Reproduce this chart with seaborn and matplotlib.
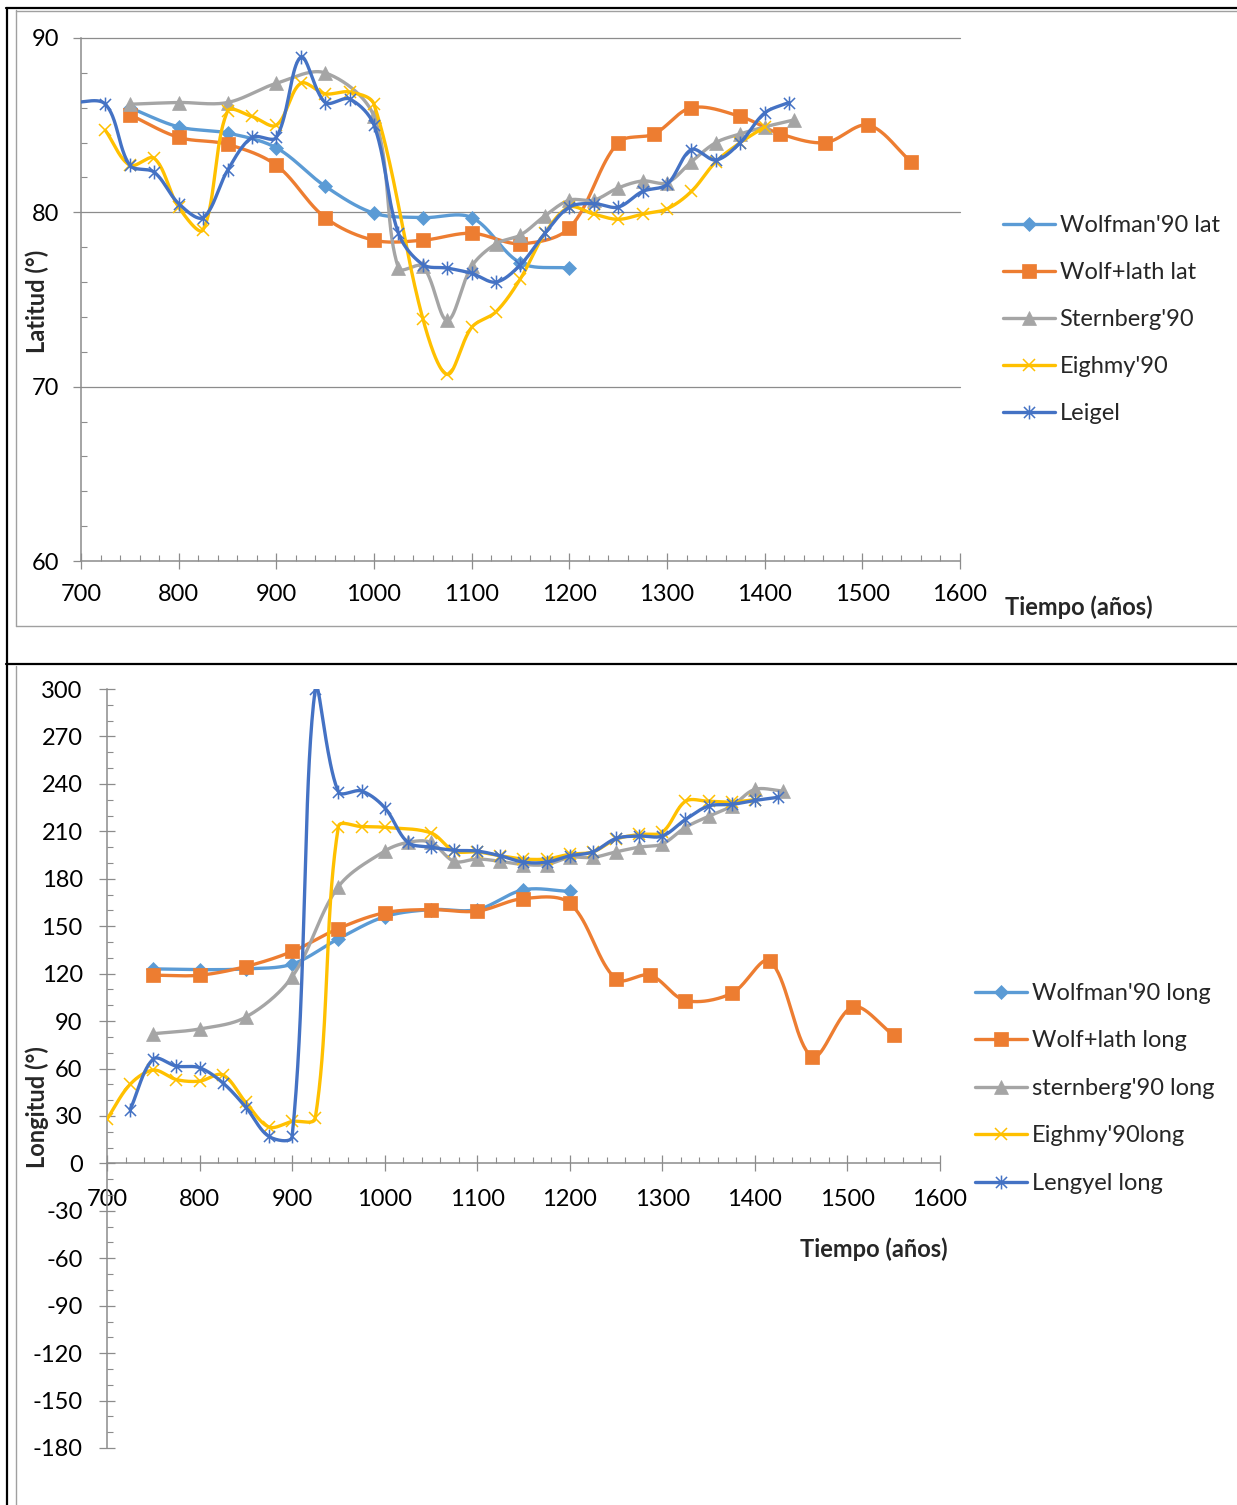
import matplotlib
matplotlib.use("Agg")
import numpy as np
import pandas as pd
import seaborn as sns
import matplotlib.pyplot as plt
from matplotlib.path import Path
from matplotlib.lines import Line2D
from matplotlib.ticker import MultipleLocator

# ---------------- latitude series ----------------
wolfman_lat_x = [750, 800, 850, 900, 950, 1000, 1050, 1100, 1150, 1200]
wolfman_lat_y = [86.0, 84.9, 84.55, 83.7, 81.5, 79.95, 79.7, 79.7, 77.1, 76.8]

wolflath_lat_x = [750, 800, 850, 900, 950, 1000, 1050, 1100, 1150, 1200,
                  1250, 1287, 1325, 1375, 1416, 1462, 1506, 1550]
wolflath_lat_y = [85.6, 84.3, 83.9, 82.7, 79.7, 78.4, 78.4, 78.8, 78.2, 79.1,
                  84.0, 84.5, 86.0, 85.5, 84.5, 84.0, 85.0, 82.9]

sternberg_lat_x = [750, 800, 850, 900, 950, 1000, 1025, 1050, 1075, 1100, 1125, 1150,
                   1175, 1200, 1225, 1250, 1275, 1300, 1325, 1350, 1375, 1400, 1430]
sternberg_lat_y = [86.2, 86.3, 86.3, 87.4, 88.0, 85.5, 76.8, 76.9, 73.8, 76.9, 78.2, 78.7,
                   79.8, 80.7, 80.7, 81.4, 81.8, 81.7, 82.9, 84.0, 84.5, 84.9, 85.3]

eighmy_lat_x = [725, 750, 775, 800, 825, 850, 875, 900, 925, 950, 975, 1000, 1050, 1075,
                1100, 1125, 1150, 1175, 1200, 1225, 1250, 1275, 1300, 1325, 1350, 1375, 1400]
eighmy_lat_y = [84.7, 82.7, 83.1, 80.3, 79.0, 85.8, 85.5, 85.0, 87.4, 86.8, 86.9, 86.2, 73.9, 70.7,
                73.4, 74.3, 76.2, 78.8, 80.3, 79.9, 79.6, 79.9, 80.2, 81.2, 82.9, 84.0, 84.9]

leigel_lat_x = [690, 725, 750, 775, 800, 825, 850, 875, 900, 925, 950, 975, 1000, 1025, 1050,
                1075, 1100, 1125, 1150, 1175, 1200, 1225, 1250, 1275, 1300, 1325, 1350, 1375,
                1400, 1425]
leigel_lat_y = [86.3, 86.2, 82.7, 82.3, 80.5, 79.7, 82.4, 84.3, 84.3, 88.9, 86.3, 86.5, 85.0, 78.8,
                77.0, 76.8, 76.5, 76.0, 77.0, 78.8, 80.3, 80.5, 80.3, 81.2, 81.6, 83.6, 83.0, 84.0,
                85.7, 86.3]

# ---------------- longitude series ----------------
wolfman_long_x = [750, 800, 850, 900, 950, 1000, 1050, 1100, 1150, 1200]
wolfman_long_y = [123, 122.5, 123, 126, 142, 156, 160.5, 160.5, 173, 172]

wolflath_long_x = [750, 800, 850, 900, 950, 1000, 1050, 1100, 1150, 1200,
                   1250, 1287, 1325, 1375, 1416, 1462, 1506, 1550]
wolflath_long_y = [119, 119, 124.5, 134, 148.5, 158.5, 160.5, 159.5, 167.5, 164.5,
                   116.5, 119, 103, 107.5, 128, 67.5, 99, 81]

sternberg_long_x = [750, 800, 850, 900, 950, 1000, 1025, 1050, 1075, 1100, 1125, 1150,
                    1175, 1200, 1225, 1250, 1275, 1300, 1325, 1350, 1375, 1400, 1430]
sternberg_long_y = [82, 85, 92.5, 118, 175, 197.5, 203, 203, 191, 192.5, 191, 189,
                    189, 193.5, 193.5, 197, 200, 202, 212.5, 219.5, 226, 236.5, 235.5]

eighmy_long_x = [700, 725, 750, 775, 800, 825, 850, 875, 900, 925, 950, 975, 1000, 1050,
                 1075, 1100, 1125, 1150, 1175, 1200, 1225, 1250, 1275, 1300, 1325, 1350,
                 1375, 1400]
eighmy_long_y = [28, 50, 59, 53, 52, 56, 38.5, 23, 26.5, 28.5, 213, 213, 212.5, 209,
                 197.5, 197, 194.5, 192.5, 192.5, 195.5, 197, 205, 208, 209.5, 229, 229,
                 228.5, 230]

lengyel_long_x = [725, 750, 775, 800, 825, 850, 875, 900, 925, 950, 975, 1000, 1025, 1050,
                  1075, 1100, 1125, 1150, 1175, 1200, 1225, 1250, 1275, 1300, 1325, 1350,
                  1375, 1400, 1425]
lengyel_long_y = [34, 66, 61.5, 60.5, 51, 35.5, 17, 17, 300, 235, 235.5, 225, 203, 200,
                  198, 197.5, 194.5, 190.5, 190.5, 194.5, 197, 205.5, 207, 207, 217.5, 226,
                  227, 229.5, 231.5]

lat_labels = ["Wolfman'90 lat", "Wolf+lath lat", "Sternberg'90", "Eighmy'90", "Leigel"]
long_labels = ["Wolfman'90 long", "Wolf+lath long", "sternberg'90 long", "Eighmy'90long",
               "Lengyel long"]

# ---------------- styling ----------------
sns.set_theme(style="ticks")
plt.rcParams["font.family"] = ["Lato", "DejaVu Sans"]
plt.rcParams["axes.unicode_minus"] = False

W, H = 1237, 1505
FS = 17
GRAY = "#8C8C8C"
COLORS = ["#5B9BD5", "#ED7D31", "#A5A5A5", "#FFC000", "#4472C4"]

# asterisk-like star marker: two diagonals plus a vertical stroke
STAR = Path([(-1, -1), (1, 1), (-1, 1), (1, -1), (0, -1.25), (0, 1.25)],
            [Path.MOVETO, Path.LINETO, Path.MOVETO, Path.LINETO, Path.MOVETO, Path.LINETO])

MARKERS = [
    dict(marker="D", ms=7.5, mec=COLORS[0], mfc=COLORS[0], mew=0.5),
    dict(marker="s", ms=9.5, mec=COLORS[1], mfc=COLORS[1], mew=0.5),
    dict(marker="^", ms=10, mec=COLORS[2], mfc=COLORS[2], mew=0.5),
    dict(marker="x", ms=9, mec=COLORS[3], mfc="none", mew=1.1),
    dict(marker=STAR, ms=10, mec=COLORS[4], mfc="none", mew=1.1),
]
LW = 2.4


def smooth_curve(x, y, sx, sy, n=40):
    """Cubic Bezier smoothing through every point; tangents are split in
    proportion to the on-screen lengths of the neighbouring segments."""
    P = np.column_stack([x, y]).astype(float)
    S = np.array([sx, sy])
    m = len(P)
    d = np.hypot(*((np.diff(P, axis=0) * S).T))  # screen length of each segment
    c_out = np.zeros_like(P)
    c_in = np.zeros_like(P)
    for i in range(1, m - 1):
        T = P[i + 1] - P[i - 1]
        dp, dn = d[i - 1], d[i]
        tot = dp + dn if dp + dn > 0 else 1.0
        c_out[i] = P[i] + T * (dn / tot) / 3.0
        c_in[i] = P[i] - T * (dp / tot) / 3.0
    out = [P[0]]
    t = np.linspace(0, 1, n)[1:, None]
    for i in range(m - 1):
        p1, p2 = P[i], P[i + 1]
        c1 = c_out[i] if i > 0 else p1 + (p2 - p1) / 3.0
        c2 = c_in[i + 1] if i + 1 < m - 1 else p2 - (p2 - p1) / 3.0
        seg = ((1 - t) ** 3) * p1 + 3 * ((1 - t) ** 2) * t * c1 + 3 * (1 - t) * t ** 2 * c2 + t ** 3 * p2
        out.extend(seg)
    out = np.array(out)
    return pd.DataFrame({"x": out[:, 0], "y": out[:, 1]})


def draw_series(ax, xs, ys, idx, sx, sy):
    curve = smooth_curve(xs, ys, sx, sy)
    sns.lineplot(data=curve, x="x", y="y", ax=ax, color=COLORS[idx], lw=LW,
                 sort=False, estimator=None, zorder=2 + idx)
    pts = pd.DataFrame({"x": xs, "y": ys})
    ax.plot(pts["x"], pts["y"], ls="none", zorder=2.5 + idx, **MARKERS[idx])


def legend_handles():
    return [Line2D([0], [0], color=COLORS[i], lw=LW, **MARKERS[i]) for i in range(5)]


fig = plt.figure(figsize=(W / 100, H / 100), dpi=100)

# ---------------- latitude panel ----------------
ax1 = fig.add_axes([81 / W, 1 - 561 / H, 879 / W, 523 / H])
series_lat = [(wolfman_lat_x, wolfman_lat_y), (wolflath_lat_x, wolflath_lat_y),
              (sternberg_lat_x, sternberg_lat_y), (eighmy_lat_x, eighmy_lat_y),
              (leigel_lat_x, leigel_lat_y)]
for i, (xs, ys) in enumerate(series_lat):
    draw_series(ax1, xs, ys, i, 879 / 900, 523 / 30)

ax1.set_xlim(700, 1600)
ax1.set_ylim(60, 90)
ax1.xaxis.set_major_locator(MultipleLocator(100))
ax1.xaxis.set_minor_locator(MultipleLocator(20))
ax1.yaxis.set_major_locator(MultipleLocator(10))
ax1.yaxis.set_minor_locator(MultipleLocator(2))
for yv in (70, 80, 90):
    ax1.axhline(yv, color=GRAY, lw=0.9, zorder=1, clip_on=False)
for side in ("top", "right"):
    ax1.spines[side].set_visible(False)
for side in ("left", "bottom"):
    ax1.spines[side].set_color(GRAY)
    ax1.spines[side].set_linewidth(1.1)
ax1.tick_params(axis="x", which="major", direction="inout", length=11, width=0.9,
                color=GRAY, pad=11, labelsize=FS, labelcolor="black")
ax1.tick_params(axis="y", which="major", direction="out", length=6, width=0.9,
                color=GRAY, pad=10, labelsize=FS, labelcolor="black")
ax1.tick_params(axis="both", which="minor", direction="in", length=4.5, width=0.8, color=GRAY)
ax1.set_xlabel("")
ax1.set_ylabel("")

fig.text(37 / W, 1 - 301 / H, "Latitud (°)", rotation=90, ha="center", va="center",
         fontsize=FS, fontweight="bold")
fig.text(1005 / W, 1 - 607 / H, "Tiempo (años)", ha="left", va="center",
         fontsize=FS, fontweight="bold")

fig.legend(legend_handles(), lat_labels, loc="upper left",
           bbox_to_anchor=(1003 / W, 1 - 215 / H), frameon=False, fontsize=FS,
           handlelength=2.2, handletextpad=0.2, labelspacing=1.1,
           borderpad=0, borderaxespad=0)

# ---------------- longitude panel ----------------
ax2 = fig.add_axes([107 / W, 1 - 1448 / H, 833 / W, 759 / H])
series_long = [(wolfman_long_x, wolfman_long_y), (wolflath_long_x, wolflath_long_y),
               (sternberg_long_x, sternberg_long_y), (eighmy_long_x, eighmy_long_y),
               (lengyel_long_x, lengyel_long_y)]
for i, (xs, ys) in enumerate(series_long):
    draw_series(ax2, xs, ys, i, 833 / 900, 759 / 480)

ax2.set_xlim(700, 1600)
ax2.set_ylim(-180, 300)
ax2.xaxis.set_major_locator(MultipleLocator(100))
ax2.xaxis.set_minor_locator(MultipleLocator(20))
ax2.yaxis.set_major_locator(MultipleLocator(30))
ax2.yaxis.set_minor_locator(MultipleLocator(10))
ax2.spines["bottom"].set_position(("data", 0))
for side in ("top", "right"):
    ax2.spines[side].set_visible(False)
for side in ("left", "bottom"):
    ax2.spines[side].set_color(GRAY)
    ax2.spines[side].set_linewidth(1.1)
ax2.tick_params(axis="x", which="major", direction="inout", length=11, width=0.9,
                color=GRAY, pad=13, labelsize=FS, labelcolor="black")
ax2.tick_params(axis="y", which="major", direction="inout", length=11, width=0.9,
                color=GRAY, pad=12, labelsize=FS, labelcolor="black")
ax2.tick_params(axis="both", which="minor", direction="in", length=4.5, width=0.8, color=GRAY)
ax2.set_xlabel("")
ax2.set_ylabel("")

fig.text(37 / W, 1 - 1107 / H, "Longitud (°)", rotation=90, ha="center", va="center",
         fontsize=FS, fontweight="bold")
fig.text(800 / W, 1 - 1249 / H, "Tiempo (años)", ha="left", va="center",
         fontsize=FS, fontweight="bold")

fig.legend(legend_handles(), long_labels, loc="upper left",
           bbox_to_anchor=(975 / W, 1 - 983 / H), frameon=False, fontsize=FS,
           handlelength=2.2, handletextpad=0.2, labelspacing=1.12,
           borderpad=0, borderaxespad=0)

# ---------------- page frame ----------------
def fig_line(x0, y0, x1, y1, color, lw):
    fig.add_artist(Line2D([x0 / W, x1 / W], [1 - y0 / H, 1 - y1 / H],
                          color=color, lw=lw, transform=fig.transFigure))

fig_line(16, 10.5, W, 10.5, "#A0A0A0", 1.0)
fig_line(16, 10, 16, 626, "#A0A0A0", 1.0)
fig_line(16, 626, W, 626, "#A0A0A0", 1.0)
fig_line(16, 666, 16, H, "#A0A0A0", 1.0)
fig_line(6, 8, W, 8, "black", 1.6)
fig_line(6.5, 8, 6.5, H, "black", 1.6)
fig_line(6, 663.5, W, 663.5, "black", 1.6)

fig.savefig("out.png", dpi=100)
